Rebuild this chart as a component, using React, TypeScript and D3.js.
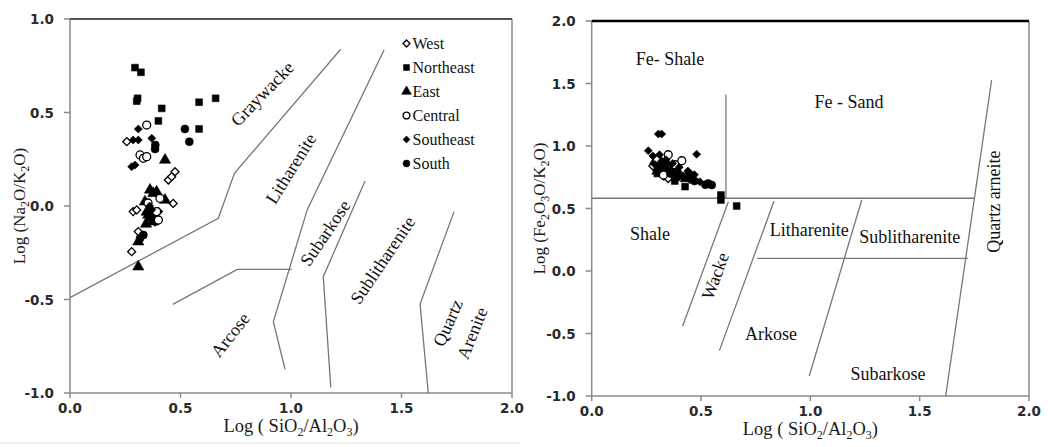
import React from "react";
import * as d3 from "d3";

type Pt = [number, number];

// ---------- Left panel: log(SiO2/Al2O3) vs log(Na2O/K2O) ----------
const westNa: Pt[] = [
  [0.257, 0.344], [0.286, -0.03], [0.302, -0.021], [0.445, 0.139], [0.46, 0.157],
  [0.475, 0.183], [0.467, 0.014], [0.309, -0.137], [0.279, -0.244], [0.4, -0.03],
  [0.377, -0.075], [0.385, -0.084],
];
const northeastNa: Pt[] = [
  [0.294, 0.74], [0.321, 0.715], [0.306, 0.576], [0.302, 0.561], [0.415, 0.522],
  [0.4, 0.455], [0.584, 0.555], [0.659, 0.576], [0.584, 0.412],
];
const eastNa: Pt[] = [
  [0.43, 0.246], [0.362, 0.086], [0.377, 0.068], [0.392, 0.076], [0.339, 0.023],
  [0.43, 0.032], [0.347, -0.032], [0.354, -0.048], [0.37, -0.037], [0.362, -0.064],
  [0.385, -0.057], [0.377, -0.084], [0.344, -0.096], [0.309, -0.191], [0.309, -0.325],
];
const centralNa: Pt[] = [
  [0.347, 0.433], [0.317, 0.273], [0.332, 0.255], [0.347, 0.264], [0.392, -0.03],
  [0.4, -0.075], [0.407, 0.041], [0.353, 0.016],
];
const southeastNa: Pt[] = [
  [0.309, 0.412], [0.286, 0.353], [0.309, 0.353], [0.37, 0.362], [0.279, 0.21],
  [0.294, 0.219], [0.36, 0.0], [0.37, -0.02],
];
const southNa: Pt[] = [
  [0.52, 0.412], [0.54, 0.344], [0.386, 0.326], [0.385, 0.305], [0.332, -0.155],
  [0.317, -0.173],
];

// Field boundaries (left)
const naBoundaries: Pt[][] = [
  [[0, -0.49], [0.671, -0.066], [0.744, 0.175], [1.225, 0.838]],
  [[1.421, 0.834], [1.074, -0.018], [0.92, -0.619], [0.973, -0.873]],
  [[0.465, -0.526], [0.757, -0.339], [1.003, -0.339]],
  [[1.335, 0.134], [1.146, -0.378], [1.18, -0.97]],
  [[1.738, -0.03], [1.584, -0.524], [1.621, -1.0]],
];
const naFieldNames = ["Graywacke", "Litharenite", "Subarkose", "Sublitharenite", "Arcose", "Quartz", "Arenite"];
const naFieldPos: Pt[] = [
  [0.87, 0.6], [1.0, 0.2], [1.155, -0.145], [1.415, -0.29], [0.725, -0.69], [1.71, -0.625], [1.82, -0.68],
];
const naFieldAngle = [-46, -58, -56, -56, -52, -66, -68];

// ---------- Right panel: log(SiO2/Al2O3) vs log(Fe2O3/K2O) ----------
const westFe: Pt[] = [
  [0.3, 0.8], [0.33, 0.76], [0.36, 0.82], [0.28, 0.84], [0.4, 0.78], [0.31, 0.86], [0.35, 0.74],
];
const northeastFe: Pt[] = [
  [0.427, 0.675], [0.591, 0.608], [0.591, 0.568], [0.663, 0.52], [0.3, 0.78], [0.35, 0.8],
  [0.38, 0.72], [0.33, 0.83],
];
const eastFe: Pt[] = [
  [0.29, 0.88], [0.32, 0.82], [0.37, 0.79], [0.4, 0.76], [0.43, 0.74], [0.34, 0.87], [0.3, 0.8],
];
const centralFe: Pt[] = [
  [0.412, 0.882], [0.328, 0.768], [0.38, 0.85], [0.3, 0.9], [0.35, 0.93],
];
const southeastFe: Pt[] = [
  [0.305, 1.096], [0.32, 1.096], [0.259, 0.962], [0.48, 0.934], [0.495, 0.714], [0.28, 0.92],
  [0.31, 0.93], [0.34, 0.89], [0.37, 0.86], [0.4, 0.83], [0.44, 0.8], [0.47, 0.77], [0.29, 0.85],
  [0.32, 0.88], [0.36, 0.81], [0.39, 0.79], [0.42, 0.76], [0.45, 0.73],
];
const southFe: Pt[] = [
  [0.533, 0.7], [0.549, 0.688], [0.52, 0.69], [0.33, 0.84], [0.36, 0.78], [0.39, 0.75],
  [0.45, 0.77], [0.47, 0.72], [0.31, 0.82],
];

// Field boundaries (right)
const feBoundaries: Pt[][] = [
  [[0.614, 1.413], [0.614, 0.582]],
  [[0, 0.582], [1.753, 0.582]],
  [[0.416, -0.44], [0.625, 0.554]],
  [[0.584, -0.637], [0.834, 0.56]],
  [[0.757, 0.101], [1.722, 0.101]],
  [[0.995, -0.84], [1.235, 0.568]],
  [[1.619, -1.0], [1.829, 1.528]],
];
const feFieldNames = ["Fe- Shale", "Fe - Sand", "Shale", "Wacke", "Litharenite", "Sublitharenite", "Arkose", "Subarkose", "Quartz arneite"];
const feFieldPos: Pt[] = [
  [0.358, 1.7], [1.177, 1.35], [0.267, 0.3], [0.565, -0.04], [0.995, 0.325], [1.455, 0.27], [0.82, -0.5], [1.355, -0.82], [1.838, 0.555],
];
const feFieldAngle = [0, 0, 0, -70, 0, 0, 0, 0, -90];

// Series styling
const seriesNames = ["West", "Northeast", "East", "Central", "Southeast", "South"];
const seriesShapes = ["diamond", "square", "triangle", "circle", "diamond", "circle"];
const seriesOpen = [true, false, false, true, false, false];
const naSeries = [westNa, northeastNa, eastNa, centralNa, southeastNa, southNa];
const feSeries = [westFe, northeastFe, eastFe, centralFe, southeastFe, southFe];

const xTicks = [0, 0.5, 1, 1.5, 2];
const naYTicks = [-1, -0.5, 0, 0.5, 1];
const feYTicks = [-1, -0.5, 0, 0.5, 1, 1.5, 2];

const tickFont = "'DejaVu Sans', Verdana, sans-serif";
const serif = "'Liberation Serif', 'Times New Roman', serif";

function markerPath(shape: string, scale = 1): string {
  if (shape === "square") return d3.symbol(d3.symbolSquare, 46 * scale)()!;
  if (shape === "triangle") return d3.symbol(d3.symbolTriangle, 54 * scale)()!;
  if (shape === "circle") return d3.symbol(d3.symbolCircle, 50 * scale)()!;
  return d3.symbol(d3.symbolSquare, 32 * scale)()!;
}

function Marker({ x, y, i, scale = 1 }: { x: number; y: number; i: number; scale?: number }) {
  const shape = seriesShapes[i];
  const open = seriesOpen[i];
  const rot = shape === "diamond" ? " rotate(45)" : "";
  return (
    <path
      d={markerPath(shape, scale)}
      transform={`translate(${x},${y})${rot}`}
      fill={open ? "#fff" : "#000"}
      stroke="#000"
      strokeWidth={open ? 1.3 : 0.6}
    />
  );
}

function Sub({ children }: { children: string }) {
  return (
    <tspan fontSize="12" dy="4">
      {children}
    </tspan>
  );
}

interface PanelProps {
  x0: number; x1: number; y0: number; y1: number;
  yDomain: [number, number];
  yTicks: number[];
  series: Pt[][];
  boundaries: Pt[][];
  names: string[];
  pos: Pt[];
  angles: number[];
  topStroke: string;
  topWidth: number;
  yTitle: React.ReactNode;
  yTitleX: number;
  fieldSize: number;
  legend: boolean;
}

function Panel(p: PanelProps) {
  const xs = d3.scaleLinear().domain([0, 2]).range([p.x0, p.x1]);
  const ys = d3.scaleLinear().domain(p.yDomain).range([p.y1, p.y0]);
  const line = d3.line<Pt>().x((d) => xs(d[0])).y((d) => ys(d[1]));
  const axisColor = "#8a8a8a";
  const midX = (p.x0 + p.x1) / 2;
  const midY = (p.y0 + p.y1) / 2;
  return (
    <g>
      {/* frame */}
      <line x1={p.x0} y1={p.y0} x2={p.x0} y2={p.y1} stroke={axisColor} strokeWidth={1.5} />
      <line x1={p.x0} y1={p.y1} x2={p.x1} y2={p.y1} stroke={axisColor} strokeWidth={1.5} />
      <line x1={p.x1} y1={p.y0} x2={p.x1} y2={p.y1} stroke={axisColor} strokeWidth={1.5} />
      <line x1={p.x0} y1={p.y0} x2={p.x1} y2={p.y0} stroke={p.topStroke} strokeWidth={p.topWidth} />
      {/* y ticks */}
      {p.yTicks.map((t) => (
        <g key={`y${t}`}>
          <line x1={p.x0 - 6} x2={p.x0} y1={ys(t)} y2={ys(t)} stroke={axisColor} strokeWidth={1.5} />
          <text x={p.x0 - 16} y={ys(t) + 5} textAnchor="end" fontFamily={tickFont} fontWeight="bold" fontSize="13.5" fill="#2a2a2a">
            {t.toFixed(1)}
          </text>
        </g>
      ))}
      {/* x ticks */}
      {xTicks.map((t) => (
        <g key={`x${t}`}>
          <line x1={xs(t)} x2={xs(t)} y1={p.y1} y2={p.y1 + 5} stroke={axisColor} strokeWidth={1.5} />
          <text x={xs(t)} y={p.y1 + 20} textAnchor="middle" fontFamily={tickFont} fontWeight="bold" fontSize="13.5" fill="#2a2a2a">
            {t.toFixed(1)}
          </text>
        </g>
      ))}
      {/* axis titles */}
      <text x={midX} y={p.y1 + 39} textAnchor="middle" fontFamily={serif} fontSize="18.5" fill="#1a1a1a">
        Log ( SiO<Sub>2</Sub><tspan dy="-4">/Al</tspan><Sub>2</Sub><tspan dy="-4">O</tspan><Sub>3</Sub><tspan dy="-4">)</tspan>
      </text>
      <text transform={`translate(${p.yTitleX},${midY}) rotate(-90)`} textAnchor="middle" fontFamily={serif} fontSize="17" fill="#1a1a1a">
        {p.yTitle}
      </text>
      {/* field boundaries */}
      {p.boundaries.map((b, i) => (
        <path key={`b${i}`} d={line(b)!} fill="none" stroke="#777" strokeWidth={1.3} />
      ))}
      {/* field names */}
      {p.names.map((n, i) => (
        <text
          key={`f${i}`}
          transform={`translate(${xs(p.pos[i][0])},${ys(p.pos[i][1])}) rotate(${p.angles[i]})`}
          textAnchor="middle"
          dominantBaseline="central"
          fontFamily={serif}
          fontSize={p.fieldSize}
          fill="#111"
        >
          {n}
        </text>
      ))}
      {/* data */}
      {p.series.map((s, i) =>
        s.map((d, j) => <Marker key={`m${i}-${j}`} x={xs(d[0])} y={ys(d[1])} i={i} />)
      )}
      {/* legend */}
      {p.legend &&
        seriesNames.map((n, i) => (
          <g key={`l${i}`} transform={`translate(406.5,${43.5 + i * 24})`}>
            <Marker x={0} y={0} i={i} scale={0.75} />
            <text x={6} y={5} fontFamily={serif} fontSize="16" fill="#111">
              {n}
            </text>
          </g>
        ))}
    </g>
  );
}

export default function App() {
  return (
    <svg width={1048} height={447} style={{ position: "fixed", left: 0, top: 0, background: "#fff" }}>
      <rect width={1048} height={447} fill="#fff" />
      <Panel
        x0={70} x1={512} y0={19} y1={393}
        yDomain={[-1, 1]} yTicks={naYTicks}
        series={naSeries} boundaries={naBoundaries}
        names={naFieldNames} pos={naFieldPos} angles={naFieldAngle}
        topStroke="#555" topWidth={2}
        yTitleX={25}
        yTitle={<>Log (Na<Sub>2</Sub><tspan dy="-4">O/K</tspan><Sub>2</Sub><tspan dy="-4">O)</tspan></>}
        fieldSize={18}
        legend={true}
      />
      <line x1={0} x2={520} y1={443} y2={443} stroke="#e4e4e4" strokeWidth={1} />
      <Panel
        x0={591.7} x1={1029} y0={21} y1={396}
        yDomain={[-1, 2]} yTicks={feYTicks}
        series={feSeries} boundaries={feBoundaries}
        names={feFieldNames} pos={feFieldPos} angles={feFieldAngle}
        topStroke="#000" topWidth={2.5}
        yTitleX={545}
        yTitle={<>Log (Fe<Sub>2</Sub><tspan dy="-4">O</tspan><Sub>3</Sub><tspan dy="-4">O/K</tspan><Sub>2</Sub><tspan dy="-4">O)</tspan></>}
        fieldSize={18}
        legend={false}
      />
    </svg>
  );
}
